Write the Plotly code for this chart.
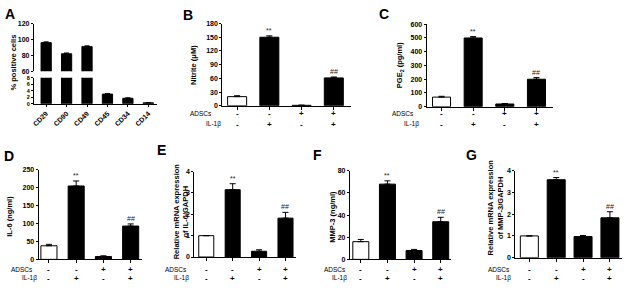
import plotly.graph_objects as go

W, H = 629, 289
FONT = "Liberation Sans, Arial, sans-serif"

# ---------------- data ----------------
markers = ["CD29", "CD90", "CD49", "CD45", "CD34", "CD14"]
pos_cells = [96, 82, 91, 3.0, 1.7, 0.3]
pos_err = [1.0, 1.0, 1.0, 0.15, 0.15, 0.05]

adscs = ["-", "-", "+", "+"]
il1b = ["-", "+", "-", "+"]
sig = ["", "**", "", "##"]

nitrite = [20, 150, 1, 61]
nitrite_err = [2, 3, 0.3, 2]
pge2 = [70, 500, 20, 200]
pge2_err = [6, 10, 3, 12]
il6 = [38, 205, 8, 93]
il6_err = [4, 14, 2, 6]
il6_mrna = [1.0, 3.15, 0.27, 1.82]
il6_mrna_err = [0, 0.28, 0.07, 0.27]
mmp3 = [16, 68, 8, 34]
mmp3_err = [2, 3, 1, 4]
mmp3_mrna = [1.0, 3.58, 0.97, 1.83]
mmp3_mrna_err = [0, 0.1, 0.05, 0.28]


def px(x):
    return x / W


def py(y):
    return 1 - y / H


fig = go.Figure()
layout = dict(width=W, height=H, margin=dict(l=0, r=0, t=0, b=0),
              paper_bgcolor="white", plot_bgcolor="white", showlegend=False,
              font=dict(family=FONT, color="black"))
annotations = []

tickfont = dict(family=FONT, size=7, color="black", weight="bold")


def note(x, y, text, xref="paper", yref="paper", xanchor="center", yanchor="middle", **font):
    f = dict(family=FONT, color="black")
    f.update(font)
    annotations.append(dict(x=x, y=y, xref=xref, yref=yref, text=text, showarrow=False,
                            xanchor=xanchor, yanchor=yanchor, font=f,
                            textangle=f.pop("angle", 0)))


def yaxis_common(**kw):
    d = dict(showline=True, linecolor="black", linewidth=1, ticks="outside",
             ticklen=2, tickwidth=1, tickcolor="black", showgrid=False,
             zeroline=False, tickfont=tickfont, fixedrange=True)
    d.update(kw)
    return d


# ---------------- Panel A (broken axis) ----------------
ax_x0, ax_x1 = 32, 155
for idx, (yr, ytop, ybot, dt, fs) in enumerate([((0, 8), 75.7, 102.3, 2, 5.5),
                                                 ((60, 120), 20, 69, 20, 7)]):
    n = idx + 1
    xa = "x" if n == 1 else "x%d" % n
    ya = "y" if n == 1 else "y%d" % n
    fig.add_trace(go.Bar(x=list(range(len(markers))), y=pos_cells, width=0.5,
                         marker=dict(color="black", line=dict(color="black", width=1)),
                         error_y=dict(type="data", array=pos_err, arrayminus=[0] * 6,
                                      symmetric=False, color="black", thickness=1, width=2.5),
                         xaxis=xa, yaxis=ya))
    xkey = "xaxis" if n == 1 else "xaxis%d" % n
    ykey = "yaxis" if n == 1 else "yaxis%d" % n
    if n == 1:
        layout[xkey] = dict(domain=[px(ax_x0), px(ax_x1)], range=[-0.6, 5.4],
                            anchor=ya, showline=True, linecolor="black", linewidth=1,
                            tickvals=list(range(6)), ticktext=markers, tickangle=-45,
                            ticks="outside", ticklen=2, tickcolor="black",
                            tickfont=dict(family=FONT, size=7, color="black", weight="bold"),
                            showgrid=False, zeroline=False, fixedrange=True)
    else:
        layout[xkey] = dict(domain=[px(ax_x0), px(ax_x1)], range=[-0.6, 5.4],
                            anchor=ya, visible=False, fixedrange=True)
    layout[ykey] = yaxis_common(domain=[py(ybot), py(ytop)], range=list(yr),
                                dtick=dt, tick0=0, anchor=xa,
                                tickfont=dict(family=FONT, size=fs, color="black", weight="bold"))

note(px(12), py(60), "% positive cells", size=7.5, weight="bold", angle=-90)
note(px(8), py(10), "A", size=14, weight="bold")

# ---------------- Panels B-G ----------------
panels = [
    dict(L="B", v=nitrite, e=nitrite_err, xp=(221, 350), yp=(20, 104.3), yr=(0, 180), dt=30,
         xr=(-0.46, 3.53), w=0.59, t="Nitrite (μM)", tx=192, ty=62, lxy=(187, 11),
         lr=(213, 222), ry=(112.7, 123)),
    dict(L="C", v=pge2, e=pge2_err, xp=(426, 553), yp=(20.7, 105.3), yr=(0, 600), dt=100,
         xr=(-0.47, 3.53), w=0.57, t="PGE<sub>2</sub> (pg/ml)", tx=400, ty=63, lxy=(383, 10),
         lr=(415, 420), ry=(112.7, 123)),
    dict(L="D", v=il6, e=il6_err, xp=(36.7, 140), yp=(170, 261.7), yr=(0, 250), dt=50,
         xr=(-0.38, 3.4), w=0.59, t="IL-6 (ng/ml)", tx=8, ty=217, lxy=(7, 156),
         lr=(33, 37), ry=(271.7, 281)),
    dict(L="E", v=il6_mrna, e=il6_mrna_err, xp=(193, 295), yp=(171.7, 259.3), yr=(0, 4), dt=1,
         xr=(-0.45, 3.4), w=0.57, t="Relative mRNA expression<br>of IL-6/GAPDH", tx=180, ty=212,
         lxy=(160, 150), lr=(188, 190), ry=(271.7, 281)),
    dict(L="F", v=mmp3, e=mmp3_err, xp=(349, 450), yp=(171, 261.7), yr=(0, 80), dt=20,
         xr=(-0.41, 3.37), w=0.6, t="MMP-3 (ng/ml)", tx=332, ty=218, lxy=(317, 155),
         lr=(347, 348), ry=(271.7, 281)),
    dict(L="G", v=mmp3_mrna, e=mmp3_mrna_err, xp=(515, 622), yp=(170.7, 260), yr=(0, 4), dt=1,
         xr=(-0.52, 3.45), w=0.67, t="Relative mRNA expression<br>of MMP-3/GAPDH", tx=496, ty=208,
         lxy=(471, 155), lr=(512, 513), ry=(271.7, 281)),
]

for k, p in enumerate(panels):
    n = k + 3
    xa, ya = "x%d" % n, "y%d" % n
    cats = list(range(len(p["v"])))
    fig.add_trace(go.Bar(x=cats, y=p["v"], width=p["w"],
                         marker=dict(color=["white", "black", "black", "black"],
                                     line=dict(color="black", width=1)),
                         error_y=dict(type="data", array=p["e"], arrayminus=[0] * 4,
                                      symmetric=False, color="black", thickness=1, width=3),
                         xaxis=xa, yaxis=ya))
    layout["xaxis%d" % n] = dict(domain=[px(p["xp"][0]), px(p["xp"][1])], range=list(p["xr"]),
                                 anchor=ya, showline=True, linecolor="black", linewidth=1,
                                 tickvals=cats, showticklabels=False, ticks="outside",
                                 ticklen=3, tickcolor="black", showgrid=False,
                                 zeroline=False, fixedrange=True)
    layout["yaxis%d" % n] = yaxis_common(domain=[py(p["yp"][1]), py(p["yp"][0])],
                                         range=list(p["yr"]), dtick=p["dt"], tick0=0, anchor=xa)
    for i, s in enumerate(sig):
        if s:
            note(i, p["v"][i] + p["e"][i], s, xref=xa, yref=ya, yanchor="bottom",
                 size=7, color="#222")
    for i in cats:
        note(i, py(p["ry"][0]), adscs[i], xref=xa, size=8, weight="bold")
        note(i, py(p["ry"][1]), il1b[i], xref=xa, size=8, weight="bold")
    note(px(p["lr"][0]), py(p["ry"][0]), "ADSCs", xanchor="right", size=6.5)
    note(px(p["lr"][1]), py(p["ry"][1]), "IL-1β", xanchor="right", size=6.5)
    note(px(p["tx"]), py(p["ty"]), p["t"], size=7.5, weight="bold", angle=-90)
    note(px(p["lxy"][0]), py(p["lxy"][1]), p["L"], size=14, weight="bold")

layout["annotations"] = annotations
fig.update_layout(**layout)
fig.write_html("out.html", config={"displayModeBar": False},
               post_script="document.body.style.margin='0';document.body.style.overflow='hidden';")
